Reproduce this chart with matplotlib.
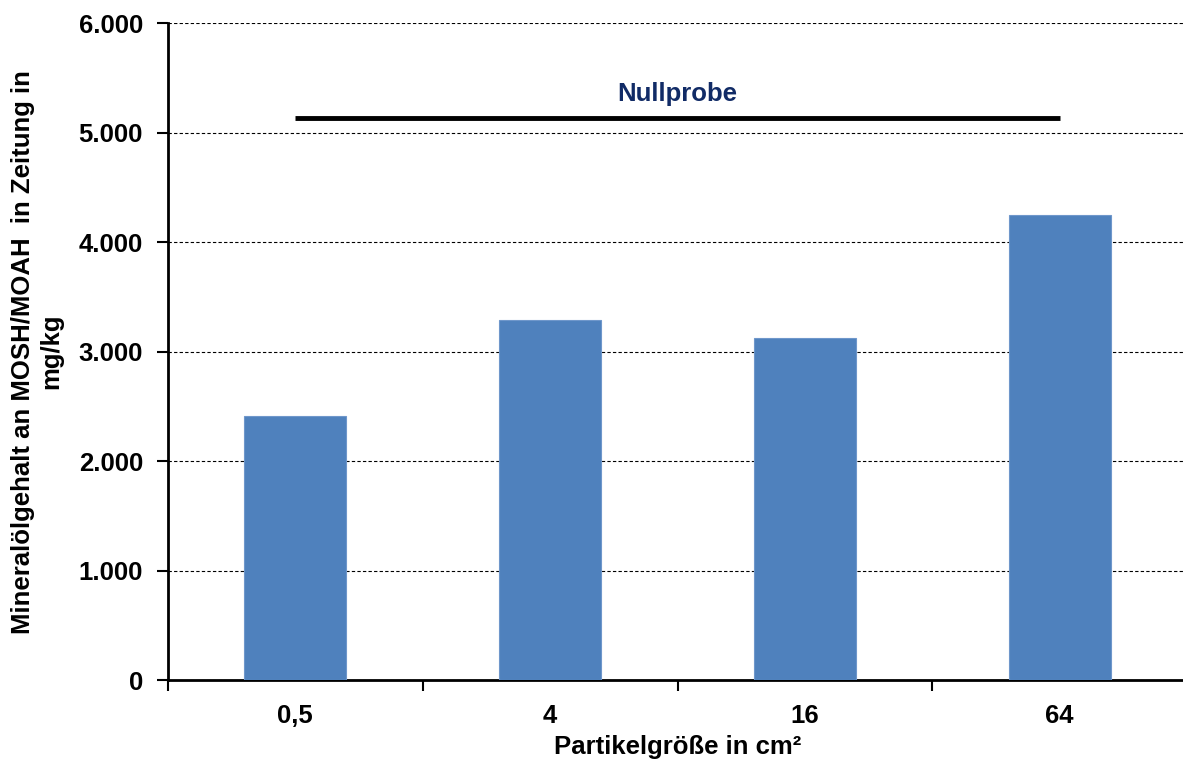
import matplotlib
matplotlib.use("Agg")
import matplotlib.pyplot as plt
from matplotlib.ticker import FuncFormatter, FixedLocator, NullFormatter

plt.rcParams['font.family'] = ['Liberation Sans', 'DejaVu Sans']
plt.rcParams['font.weight'] = 'bold'

# Particle sizes and mineral oil content (MOSH/MOAH) in newspaper, mg/kg
categories = ["0,5", "4", "16", "64"]
values = [2415, 3285, 3125, 4245]
blank_value = 5135
blank_label = "Nullprobe"

FS = 18.5

fig = plt.figure(figsize=(11.83, 7.63), dpi=100)
ax = fig.add_axes([168 / 1183, 83 / 763, 1019 / 1183, 656.7 / 763])

x = list(range(len(categories)))
ax.bar(x, values, width=0.4, color="#4F81BD", edgecolor="#6F97CB",
       linewidth=0.8, zorder=3)

# Reference line for the blank sample, spanning first to last bar
ax.plot([x[0], x[-1]], [blank_value, blank_value], color="black",
        linewidth=3.5, solid_capstyle="butt", zorder=4)
ax.text((x[0] + x[-1]) / 2, blank_value + 220, blank_label,
        ha="center", va="center", fontsize=FS, fontweight="bold",
        color="#112B66")

ax.set_xlim(-0.5, len(categories) - 0.5)
ax.set_ylim(0, 6000)
ax.set_yticks(range(0, 6001, 1000))
ax.yaxis.set_major_formatter(
    FuncFormatter(lambda v, p: f"{int(v):,}".replace(",", ".")))

# Ticks between categories, labels at category centres
ax.xaxis.set_major_locator(FixedLocator([i - 0.5 for i in range(len(categories) + 1)]))
ax.xaxis.set_major_formatter(NullFormatter())
ax.xaxis.set_minor_locator(FixedLocator(x))
ax.set_xticklabels(categories, minor=True)
ax.tick_params(axis="x", which="major", length=8, width=1.5, direction="out")
ax.tick_params(axis="x", which="minor", length=0, pad=17, labelsize=FS)
ax.tick_params(axis="y", length=8, width=1.5, direction="out", pad=10,
               labelsize=FS)

ax.grid(axis="y", color="black", linestyle=(0, (3, 2)), linewidth=0.8,
        zorder=0)

for side in ("top", "right"):
    ax.spines[side].set_visible(False)
for side in ("left", "bottom"):
    ax.spines[side].set_linewidth(2)
    ax.spines[side].set_color("black")

ax.set_xlabel("Partikelgröße in cm²", fontsize=FS, fontweight="bold",
              labelpad=5)
ax.set_ylabel("Mineralölgehalt an MOSH/MOAH  in Zeitung in\nmg/kg",
              fontsize=FS, fontweight="bold", labelpad=11, linespacing=1.25)

fig.savefig("out.png", dpi=100)
